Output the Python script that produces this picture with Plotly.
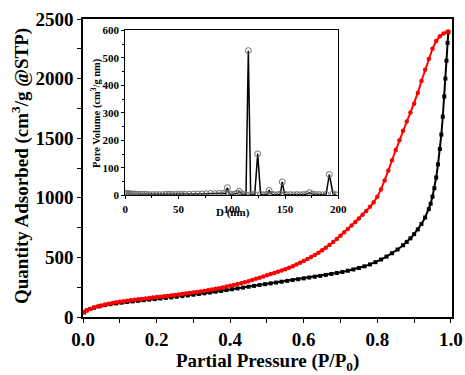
import plotly.graph_objects as go

# Adsorption (black) isotherm
ads_p = [0.003, 0.01, 0.02, 0.03, 0.045, 0.06, 0.075, 0.09, 0.105, 0.12, 0.135, 0.15, 0.165, 0.18, 0.195,
         0.21, 0.225, 0.24, 0.255, 0.27, 0.285, 0.30, 0.315, 0.33, 0.345, 0.36, 0.375, 0.39, 0.405, 0.42,
         0.435, 0.45, 0.465, 0.48, 0.495, 0.51, 0.525, 0.54, 0.555, 0.57, 0.585, 0.60, 0.615, 0.63, 0.645,
         0.66, 0.675, 0.69, 0.705, 0.72, 0.735, 0.75, 0.765, 0.78, 0.795, 0.81, 0.825, 0.84, 0.855, 0.87,
         0.88, 0.89, 0.90, 0.91, 0.92, 0.93, 0.94, 0.945, 0.95, 0.955, 0.96, 0.965, 0.97, 0.974, 0.978,
         0.982, 0.985, 0.988, 0.991, 0.993]
ads_q = [38, 55, 68, 78, 90, 100, 107, 114, 120, 126, 131, 136, 141, 146, 150,
         155, 160, 165, 170, 175, 181, 187, 193, 199, 205, 212, 219, 226, 233, 240,
         247, 254, 261, 268, 275, 282, 289, 296, 303, 310, 317, 324, 331, 338, 345,
         353, 361, 369, 378, 388, 399, 411, 425, 441, 460, 482, 507, 535, 566, 602,
         630, 660, 695, 735, 780, 835, 905, 950, 1010, 1080, 1170, 1280, 1410, 1530, 1680,
         1850, 2000, 2150, 2300, 2390]

# Desorption (red) isotherm
des_p = [0.003, 0.01, 0.02, 0.03, 0.04, 0.05, 0.06, 0.07, 0.08, 0.09, 0.10, 0.11, 0.12, 0.13, 0.14,
         0.15, 0.16, 0.17, 0.18, 0.19, 0.20, 0.21, 0.22, 0.23, 0.24, 0.25, 0.26, 0.27, 0.28, 0.29,
         0.30, 0.31, 0.32, 0.33, 0.34, 0.35, 0.36, 0.37, 0.38, 0.39, 0.40, 0.41, 0.42, 0.43, 0.44,
         0.45, 0.46, 0.47, 0.48, 0.49, 0.50, 0.51, 0.52, 0.53, 0.54, 0.55, 0.56, 0.57, 0.58, 0.59,
         0.60, 0.61, 0.62, 0.63, 0.64, 0.65, 0.66, 0.67, 0.68, 0.69, 0.70, 0.71, 0.72, 0.73, 0.74,
         0.75, 0.76, 0.77, 0.78, 0.79, 0.80, 0.81, 0.82, 0.83, 0.84, 0.85, 0.86, 0.87, 0.88, 0.89,
         0.90, 0.91, 0.92, 0.93, 0.94, 0.95, 0.96, 0.97, 0.98, 0.99, 0.993]
des_q = [42, 55, 68, 79, 88, 97, 105, 111, 117, 123, 128, 132, 136, 140, 144,
         148, 152, 155, 159, 163, 167, 170, 174, 177, 181, 185, 189, 193, 197, 201,
         205, 210, 214, 219, 224, 230, 236, 242, 248, 255, 262, 269, 276, 284, 292,
         300, 310, 320, 330, 340, 350, 360, 370, 380, 390, 401, 413, 426, 440, 455,
         470, 486, 503, 521, 540, 560, 582, 605, 629, 655, 682, 710, 738, 767, 797,
         827, 858, 890, 924, 962, 1008, 1070, 1145, 1228, 1315, 1400, 1482, 1562, 1640, 1715,
         1790, 1880, 1980, 2075, 2165, 2250, 2315, 2355, 2378, 2390, 2395]

# Inset: pore size distribution
pore_d = [0.5, 1, 1.5, 2, 3, 4, 5, 6, 8, 10, 12, 14, 16, 18, 20, 23, 26, 29, 32, 35, 38, 41, 44, 47,
          50, 53, 56, 60, 64, 68, 72, 76, 80, 84, 88, 92, 94, 95.8, 97.5, 100, 103, 105, 107, 109, 111,
          113.3, 115.5, 117.7, 119.5, 121.5, 124.3, 127, 130, 133, 135, 137.5, 140, 143, 145.5, 147.4,
          149.5, 152, 155, 158, 161, 164, 167, 170, 173, 176, 179, 182, 185, 188.5, 191.5, 195, 198]
pore_v = [8, 7, 7, 6, 6, 6, 5, 5, 5, 5, 4, 4, 4, 4, 4, 3, 3, 3, 3, 3, 4, 4, 4, 4,
          4, 4, 4, 4, 5, 5, 5, 6, 7, 6, 7, 8, 6, 28, 6, 3, 5, 8, 15, 6, 3,
          2, 526, 3, 2, 3, 151, 4, 2, 4, 18, 4, 2, 3, 4, 49,
          4, 2, 3, 2, 3, 2, 3, 4, 10, 5, 3, 3, 2, 4, 76, 6, 2]

FONT = "Liberation Serif"
W, H = 465, 375
ML, MR, MT, MB = 83, 13, 19, 58

fig = go.Figure()
fig.add_trace(go.Scatter(
    x=ads_p, y=ads_q, mode="lines+markers",
    line=dict(color="black", width=2),
    marker=dict(symbol="square", size=4, color="black"),
    xaxis="x", yaxis="y", showlegend=False))
fig.add_trace(go.Scatter(
    x=des_p, y=des_q, mode="lines+markers",
    line=dict(color="#ff0000", width=2),
    marker=dict(symbol="circle", size=4.5, color="#ff0000"),
    xaxis="x", yaxis="y", showlegend=False))
fig.add_trace(go.Scatter(
    x=pore_d, y=pore_v, mode="lines+markers",
    line=dict(color="black", width=1.5),
    marker=dict(symbol="circle-open", size=6, color="#707070", line=dict(width=1)),
    xaxis="x2", yaxis="y2", showlegend=False))

axis_common = dict(showgrid=False, zeroline=False, showline=True, linecolor="black",
                   ticks="outside", tickcolor="black", automargin=False)


def px_x(px):
    return (px - ML) / (W - ML - MR)


def px_y(py):
    return (H - MB - py) / (H - MT - MB)


fig.update_layout(
    width=W, height=H,
    margin=dict(l=ML, r=MR, t=MT, b=MB),
    paper_bgcolor="white", plot_bgcolor="white",
    font=dict(family=FONT, color="black"),
    xaxis=dict(**axis_common, domain=[0, 1], range=[0, 1.003], mirror=True, linewidth=1.5,
               tickvals=[0, 0.2, 0.4, 0.6, 0.8, 1.0], ticktext=["0.0", "0.2", "0.4", "0.6", "0.8", "1.0"],
               ticklen=4, tickwidth=1,
               minor=dict(dtick=0.1, ticks="outside", ticklen=4, tickcolor="black"),
               tickfont=dict(size=19, family=FONT, weight="bold")),
    yaxis=dict(**axis_common, domain=[0, 1], range=[0, 2500], mirror=True, linewidth=1.5,
               dtick=500, ticklen=4, tickwidth=1,
               minor=dict(dtick=250, ticks="outside", ticklen=4, tickcolor="black"),
               tickfont=dict(size=19, family=FONT, weight="bold")),
    xaxis2=dict(**axis_common, anchor="y2", domain=[0.1146, 0.692], range=[0, 200], mirror=True,
                linewidth=1, dtick=50, ticklen=3,
                minor=dict(dtick=25, ticks="outside", ticklen=2, tickcolor="black"),
                tickfont=dict(size=11, family=FONT, weight="bold")),
    yaxis2=dict(**axis_common, anchor="x2", domain=[0.408, 0.962], range=[0, 600], mirror=True,
                linewidth=1, dtick=100, ticklen=3,
                minor=dict(dtick=50, ticks="outside", ticklen=2, tickcolor="black"),
                tickfont=dict(size=11, family=FONT, weight="bold")),
    annotations=[
        dict(text="Partial Pressure (P/P<sub>0</sub>)", xref="paper", yref="paper",
             x=px_x(267), y=px_y(362), showarrow=False, xanchor="center", yanchor="middle",
             font=dict(size=19, family=FONT, weight="bold")),
        dict(text="Quantity Adsorbed (cm<sup>3</sup>/g @STP)", xref="paper", yref="paper",
             x=px_x(20), y=px_y(166), textangle=-90, showarrow=False,
             xanchor="center", yanchor="middle",
             font=dict(size=19, family=FONT, weight="bold")),
        dict(text="Pore Volume (cm<sup>3</sup>/g nm)", xref="paper", yref="paper",
             x=px_x(96), y=px_y(113), textangle=-90, showarrow=False,
             xanchor="center", yanchor="middle",
             font=dict(size=10.5, family=FONT, weight="bold")),
        dict(text="D (nm)", xref="x2", yref="paper", x=101, y=px_y(212),
             showarrow=False, yanchor="middle", xanchor="center",
             font=dict(size=11, family=FONT, weight="bold")),
    ],
)

fig.write_html("out.html", config={"displayModeBar": False},
               post_script="document.body.style.margin='0';document.body.style.overflow='hidden';")
